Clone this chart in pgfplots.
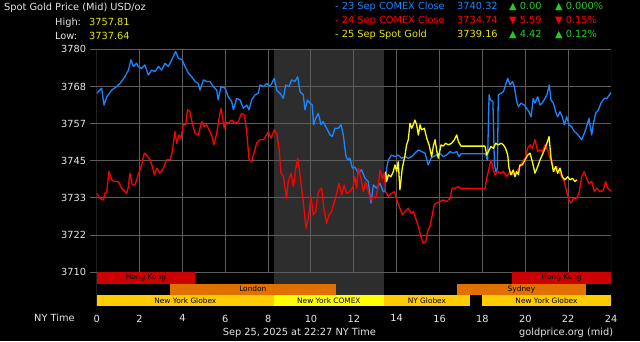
\documentclass[border=0pt]{standalone}
\usepackage{fontspec}
\setmainfont{DejaVu Sans}
\usepackage{pgfplots}
\pgfplotsset{compat=1.18}
\definecolor{bgray}{HTML}{2D2D2D}
\definecolor{gridc}{HTML}{5C5C5C}
\definecolor{lblue}{HTML}{1A85FF}
\definecolor{lred}{HTML}{FF0000}
\definecolor{lyel}{HTML}{FFFF00}
\definecolor{txt}{HTML}{E6E6E6}
\definecolor{valyel}{HTML}{E6E600}
\definecolor{grn}{HTML}{22CC22}
\definecolor{hk}{HTML}{CC0000}
\definecolor{ldn}{HTML}{E07000}
\definecolor{nyg}{HTML}{FFCC00}
\definecolor{nyc}{HTML}{FFFF00}
\newcommand\mf{\fontsize{9.8}{11}\selectfont}
\newcommand\barf{\fontsize{7.4}{8}\selectfont}
\begin{document}
\begin{tikzpicture}[x=1pt,y=1pt]
\useasboundingbox (0,0) rectangle (640,341);
\fill[black] (0,0) rectangle (640,341);
\begin{axis}[at={(96.7pt,35pt)}, anchor=south west, scale only axis,
  width=514.3pt, height=256.7pt,
  xmin=0, xmax=24, ymin=3699.4, ymax=3780,
  axis line style={draw=none},
  xtick={0,2,4,6,8,10,12,14,16,18,20,22,24},
  xticklabels={0,2,4,6,8,10,12,14,16,18,20,22,24},
  xtick style={draw=none},
  ytick={3710,3721.6667,3733.3333,3745,3756.6667,3768.3333,3780},
  yticklabels={3710,3722,3733,3745,3757,3768,3780},
  ytick pos=left, ytick style={draw=gridc, line width=1pt},
  major tick length=7pt, tick align=outside,
  ticklabel style={font=\mf, text=txt},
  xticklabel style={yshift=1.8pt},
  line join=round]
\fill[bgray] (axis cs:8.27,3699.4) rectangle (axis cs:13.4,3780);
\pgfplotsinvokeforeach{2,4,6,8,10,12,14,16,18,20,22,24}{
  \draw[gridc, line width=1pt] (axis cs:#1,3710) -- (axis cs:#1,3780);}
\draw[gridc, line width=1pt] (axis cs:0,3699.4) -- (axis cs:0,3780);
\pgfplotsinvokeforeach{3710,3721.6667,3733.3333,3745,3756.6667,3768.3333,3780}{
  \draw[gridc, line width=1pt] (axis cs:0,#1) -- (axis cs:24,#1);}
% 23 Sep (blue)
\addplot[lblue, line width=1.3pt] coordinates {
(0.00,3766.2)(0.23,3767.8)(0.34,3762.5)(0.47,3765.1)(0.70,3767.2)(0.93,3768.3)(1.09,3769.3)(1.32,3771.4)(1.48,3773.5)(1.60,3776.7)(1.71,3774.6)(1.86,3775.6)(1.94,3774.6)(2.10,3774.0)(2.25,3775.1)(2.41,3771.9)(2.56,3773.5)(2.72,3773.0)(2.88,3774.6)(3.03,3773.5)(3.19,3775.6)(3.34,3774.6)(3.50,3776.7)(3.68,3779.3)(3.81,3777.2)(3.99,3776.7)(4.12,3774.6)(4.28,3772.5)(4.43,3771.4)(4.59,3769.9)(4.74,3769.3)(4.82,3767.2)(4.98,3770.4)(5.13,3769.9)(5.29,3769.9)(5.44,3768.3)(5.60,3767.2)(5.67,3764.1)(5.80,3768.3)(5.99,3767.8)(6.14,3765.1)(6.30,3763.6)(6.38,3761.0)(6.53,3764.6)(6.69,3764.1)(6.84,3761.5)(7.00,3762.5)(7.11,3761.0)(7.23,3764.1)(7.39,3765.7)(7.54,3766.2)(7.62,3768.8)(7.78,3768.3)(7.93,3769.3)(8.09,3768.3)(8.29,3770.9)(8.40,3767.2)(8.55,3766.2)(8.71,3764.6)(8.82,3768.8)(8.97,3768.3)(9.10,3770.4)(9.25,3769.9)(9.38,3771.4)(9.49,3766.7)(9.64,3765.7)(9.72,3761.0)(9.84,3764.1)(9.95,3763.1)(10.06,3762.5)(10.12,3756.3)(10.22,3758.3)(10.34,3759.9)(10.47,3756.3)(10.57,3757.3)(10.73,3755.2)(10.89,3753.1)(10.99,3752.6)(11.12,3755.2)(11.27,3755.2)(11.40,3756.3)(11.51,3753.1)(11.62,3746.8)(11.71,3745.3)(11.82,3745.8)(11.93,3742.7)(12.05,3743.0)(12.21,3741.1)(12.36,3742.2)(12.52,3739.5)(12.67,3738.5)(12.80,3731.7)(12.91,3737.4)(13.06,3736.4)(13.22,3737.9)(13.37,3735.3)(13.45,3735.3)(13.53,3742.7)(13.61,3745.3)(13.76,3746.8)(13.92,3746.3)(14.07,3746.8)(14.23,3745.8)(14.39,3746.3)(14.54,3745.8)(14.70,3746.3)(14.85,3747.4)(15.01,3748.4)(15.16,3747.9)(15.32,3747.4)(15.47,3743.7)(15.60,3745.8)(15.71,3746.3)(15.86,3746.8)(16.02,3747.4)(16.17,3746.3)(16.33,3746.8)(16.49,3747.9)(16.64,3747.4)(16.80,3747.9)(16.91,3746.3)(17.00,3747.2)(18.15,3747.2)(18.20,3745.8)(18.24,3745.2)(18.31,3765.7)(18.37,3764.1)(18.49,3763.6)(18.56,3743.7)(18.63,3741.6)(18.70,3742.7)(18.74,3765.7)(18.87,3766.2)(18.98,3766.7)(19.08,3768.8)(19.18,3770.9)(19.29,3768.8)(19.40,3769.9)(19.49,3768.3)(19.60,3763.6)(19.68,3762.0)(19.80,3763.1)(19.95,3762.5)(20.06,3761.5)(20.17,3760.4)(20.27,3758.8)(20.37,3764.6)(20.45,3763.1)(20.58,3765.1)(20.69,3762.5)(20.79,3763.1)(20.92,3764.6)(21.01,3765.7)(21.12,3768.8)(21.20,3764.1)(21.31,3763.1)(21.42,3760.4)(21.51,3758.8)(21.62,3760.4)(21.73,3758.8)(21.82,3756.3)(21.93,3758.8)(22.04,3756.3)(22.16,3755.7)(22.29,3754.2)(22.40,3753.6)(22.52,3752.6)(22.63,3751.6)(22.75,3753.6)(22.86,3755.7)(22.97,3758.3)(23.10,3753.1)(23.17,3756.3)(23.28,3759.9)(23.41,3760.9)(23.53,3763.1)(23.69,3764.6)(23.81,3764.6)(23.95,3765.9)(24.00,3766.5)};
% 24 Sep (red)
\addplot[lred, line width=1.3pt] coordinates {
(0.00,3734.8)(0.15,3733.2)(0.31,3732.7)(0.39,3734.8)(0.47,3735.3)(0.57,3741.6)(0.70,3739.0)(0.85,3738.5)(1.01,3738.5)(1.16,3736.4)(1.32,3735.3)(1.40,3734.8)(1.48,3736.9)(1.55,3741.1)(1.66,3737.4)(1.79,3737.4)(1.94,3740.6)(2.10,3743.7)(2.22,3747.4)(2.33,3746.8)(2.49,3745.3)(2.60,3743.2)(2.69,3740.6)(2.80,3742.7)(2.95,3741.1)(3.11,3742.7)(3.26,3745.3)(3.42,3745.3)(3.53,3747.9)(3.65,3754.2)(3.73,3750.5)(3.84,3753.1)(3.93,3752.1)(4.04,3756.3)(4.15,3756.3)(4.24,3761.0)(4.35,3760.4)(4.46,3756.8)(4.59,3753.6)(4.74,3753.1)(4.90,3757.3)(5.02,3755.7)(5.13,3756.3)(5.24,3754.7)(5.36,3753.1)(5.47,3750.0)(5.60,3753.6)(5.71,3758.3)(5.80,3761.5)(5.95,3755.2)(6.00,3757.3)(6.14,3756.8)(6.30,3757.8)(6.45,3756.8)(6.61,3757.3)(6.76,3759.9)(6.89,3759.4)(7.00,3754.2)(7.11,3745.3)(7.23,3744.8)(7.36,3747.9)(7.46,3750.5)(7.62,3751.6)(7.78,3751.6)(7.88,3752.6)(8.01,3754.2)(8.13,3752.1)(8.29,3754.7)(8.40,3753.6)(8.51,3748.9)(8.60,3741.1)(8.71,3740.0)(8.86,3733.2)(8.94,3738.5)(9.07,3741.1)(9.18,3736.9)(9.28,3742.2)(9.38,3745.8)(9.49,3740.6)(9.56,3736.4)(9.64,3732.2)(9.77,3723.8)(9.88,3727.0)(10.00,3733.8)(10.11,3728.0)(10.22,3729.1)(10.34,3735.3)(10.50,3736.4)(10.62,3729.1)(10.73,3725.4)(10.84,3728.0)(10.96,3729.1)(11.09,3732.2)(11.20,3734.8)(11.31,3737.9)(11.43,3734.3)(11.55,3737.4)(11.66,3734.8)(11.82,3735.3)(11.97,3736.9)(12.05,3740.0)(12.13,3736.4)(12.21,3742.7)(12.33,3739.5)(12.44,3735.3)(12.55,3738.5)(12.68,3735.3)(12.78,3732.7)(12.91,3733.8)(13.02,3733.2)(13.14,3737.4)(13.22,3742.1)(13.33,3739.5)(13.42,3741.1)(13.48,3735.3)(13.61,3733.8)(13.76,3734.8)(13.89,3735.3)(14.00,3732.7)(14.15,3730.1)(14.26,3728.0)(14.39,3729.1)(14.54,3730.1)(14.67,3728.5)(14.78,3729.1)(14.88,3727.0)(15.01,3724.4)(15.13,3721.2)(15.24,3719.1)(15.35,3719.6)(15.44,3722.8)(15.55,3724.4)(15.66,3728.0)(15.75,3731.2)(15.86,3731.7)(16.02,3732.2)(16.17,3732.7)(16.33,3732.2)(16.49,3733.2)(16.59,3736.4)(16.72,3736.4)(16.87,3736.9)(16.95,3736.4)(18.12,3736.2)(18.20,3739.5)(18.31,3742.7)(18.40,3745.3)(18.51,3742.1)(18.59,3740.6)(18.71,3741.6)(18.87,3741.1)(18.98,3741.6)(19.13,3740.0)(19.29,3741.6)(19.44,3740.6)(19.60,3741.6)(19.75,3743.2)(19.86,3744.7)(19.99,3745.8)(20.11,3748.9)(20.22,3750.0)(20.33,3748.9)(20.45,3751.6)(20.58,3747.9)(20.69,3748.4)(20.79,3747.9)(20.92,3750.0)(21.04,3748.4)(21.15,3745.8)(21.23,3744.7)(21.35,3741.6)(21.46,3743.2)(21.57,3741.6)(21.70,3740.0)(21.82,3738.5)(21.93,3735.3)(22.04,3732.7)(22.13,3731.7)(22.24,3733.2)(22.40,3733.2)(22.52,3735.3)(22.63,3740.0)(22.75,3741.6)(22.86,3739.5)(22.97,3737.9)(23.10,3738.5)(23.22,3735.3)(23.33,3736.4)(23.49,3735.3)(23.64,3735.8)(23.75,3738.5)(23.84,3736.4)(23.95,3735.8)(24.00,3735.5)};
% 25 Sep (yellow)
\addplot[lyel, line width=1.3pt] coordinates {
(13.48,3741.6)(13.53,3738.5)(13.61,3740.6)(13.73,3740.0)(13.84,3741.6)(13.92,3743.7)(14.00,3741.6)(14.07,3744.7)(14.15,3735.9)(14.26,3742.7)(14.39,3746.8)(14.46,3750.0)(14.54,3751.6)(14.62,3756.8)(14.70,3755.2)(14.77,3756.3)(14.85,3757.8)(14.93,3756.3)(15.01,3753.1)(15.09,3756.3)(15.16,3754.7)(15.29,3755.2)(15.40,3752.1)(15.51,3750.0)(15.63,3746.3)(15.71,3749.6)(15.79,3751.6)(15.86,3748.4)(15.94,3745.8)(16.07,3750.0)(16.17,3749.6)(16.28,3750.5)(16.41,3750.0)(16.56,3750.5)(16.69,3751.6)(16.80,3753.1)(16.88,3751.0)(17.00,3749.6)(18.12,3749.6)(18.20,3746.8)(18.31,3748.4)(18.40,3749.5)(18.51,3748.9)(18.62,3750.5)(18.74,3750.0)(18.87,3750.5)(18.98,3750.0)(19.08,3748.9)(19.18,3746.8)(19.24,3742.7)(19.33,3740.6)(19.44,3742.1)(19.52,3740.0)(19.60,3741.6)(19.68,3740.6)(19.75,3743.7)(19.86,3743.7)(19.99,3745.3)(20.11,3746.8)(20.22,3747.4)(20.33,3744.7)(20.45,3741.1)(20.58,3743.2)(20.69,3745.3)(20.79,3746.8)(20.92,3748.9)(21.01,3750.5)(21.11,3752.6)(21.20,3745.8)(21.31,3741.6)(21.42,3743.2)(21.51,3741.1)(21.62,3742.7)(21.73,3740.0)(21.85,3739.0)(21.98,3740.0)(22.09,3739.0)(22.20,3739.5)(22.32,3738.5)(22.41,3739.0)};
% session bars
\fill[hk] (axis cs:0,3706.4) rectangle (axis cs:4.59,3710);
\fill[hk] (axis cs:19.39,3706.4) rectangle (axis cs:24,3710);
\fill[ldn] (axis cs:3.40,3703.0) rectangle (axis cs:11.17,3706.4);
\fill[ldn] (axis cs:16.81,3703.0) rectangle (axis cs:22.83,3706.4);
\fill[nyg] (axis cs:0,3699.4) rectangle (axis cs:8.27,3703.0);
\fill[nyc] (axis cs:8.27,3699.4) rectangle (axis cs:13.40,3703.0);
\fill[nyg] (axis cs:13.40,3699.4) rectangle (axis cs:17.42,3703.0);
\fill[nyg] (axis cs:17.98,3699.4) rectangle (axis cs:24,3703.0);
\node[font=\barf, text=black] at (axis cs:2.295,3708.2) {Hong Kong};
\node[font=\barf, text=black] at (axis cs:21.695,3708.2) {Hong Kong};
\node[font=\barf, text=black] at (axis cs:7.285,3704.7) {London};
\node[font=\barf, text=black] at (axis cs:19.82,3704.7) {Sydney};
\node[font=\barf, text=black] at (axis cs:4.135,3701.2) {New York Globex};
\node[font=\barf, text=black] at (axis cs:10.835,3701.2) {New York COMEX};
\node[font=\barf, text=black] at (axis cs:15.41,3701.2) {NY Globex};
\node[font=\barf, text=black] at (axis cs:20.99,3701.2) {New York Globex};
\end{axis}
% header texts
\begin{scope}[every node/.style={anchor=mid west, inner sep=0pt, font=\mf}]
\node[text=txt] at (4,333.3) {Spot Gold Price (Mid) USD/oz};
\node[text=txt] at (55,318.5) {High:};
\node[text=valyel] at (89,318.5) {3757.81};
\node[text=txt] at (55,304.5) {Low:};
\node[text=valyel] at (89,304.5) {3737.64};
\node[text=lblue] at (335,334) {- 23 Sep COMEX Close};
\node[text=lblue] at (457,334) {3740.32};
\node[text=grn] at (509,334) {▲ 0.00};
\node[text=grn] at (555,334) {▲ 0.000\%};
\node[text=lred] at (335,320) {- 24 Sep COMEX Close};
\node[text=lred] at (457,320) {3734.74};
\node[text=lred] at (509,320) {▼ 5.59};
\node[text=lred] at (555,320) {▼ 0.15\%};
\node[text=valyel] at (335,306) {- 25 Sep Spot Gold};
\node[text=valyel] at (457,306) {3739.16};
\node[text=grn] at (509,306) {▲ 4.42};
\node[text=grn] at (555,306) {▲ 0.12\%};
\node[text=txt] at (34,22.5) {NY Time};
\node[text=txt] at (222.7,8.5) {Sep 25, 2025 at 22:27 NY Time};
\node[text=txt] at (519,8.5) {goldprice.org (mid)};
\end{scope}
\end{tikzpicture}
\end{document}
